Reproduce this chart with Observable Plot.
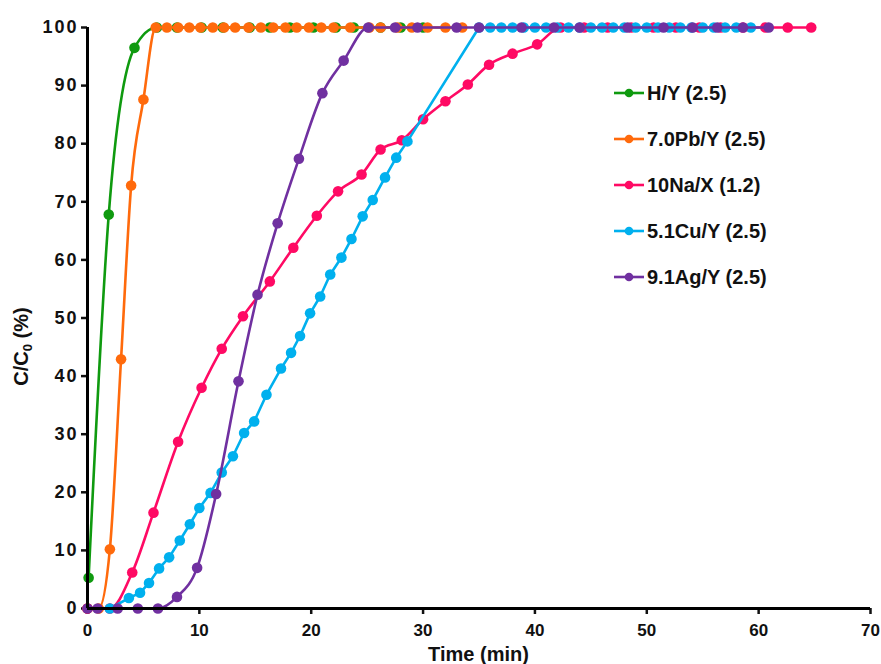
<!DOCTYPE html>
<html>
<head>
<meta charset="utf-8">
<script src="https://cdn.jsdelivr.net/npm/d3@7"></script>
<script src="https://cdn.jsdelivr.net/npm/@observablehq/plot@0.6"></script>
<style>
  html, body { margin: 0; padding: 0; background: #fff; }
  #wrap { position: relative; width: 881px; height: 664px; font-family: "Liberation Sans", Arial, sans-serif; }
  #legend { position: absolute; left: 613px; top: 70px; }
  .row { display: flex; align-items: center; height: 46px; font-size: 20px; font-weight: bold; color: #111; }
  .row svg { margin-right: 2px; }
</style>
</head>
<body>
<div id="wrap"><div id="legend"></div></div>
<script>
// ---- data ----
const seriesNames = ["H/Y (2.5)", "7.0Pb/Y (2.5)", "10Na/X (1.2)", "5.1Cu/Y (2.5)", "9.1Ag/Y (2.5)"];
const seriesColors = ["#0f9a0f", "#ff6a0c", "#ff0a64", "#00b0ee", "#7030a0"];
const seriesCurves = ["monotone-x", "monotone-x", "monotone-x", "linear", "monotone-x"];

const hyTime = [0.1, 1.9, 4.2, 6.2, 8.0, 10.2, 12.1, 14.5, 16.3, 18.1, 20.2, 22.2, 23.8, 26.2, 28.0, 30.0];
const hyC    = [5.3, 67.8, 96.5, 100, 100, 100, 100, 100, 100, 100, 100, 100, 100, 100, 100, 100];

const pbTime = [0, 1.0, 2.0, 3.0, 3.9, 5.0, 6.1, 7.1, 8.1, 9.1, 10.1, 11.2, 12.2, 13.2, 14.4, 15.5, 16.6, 17.7, 18.7, 19.8, 20.9, 22.0, 23.5, 25.2, 26.2, 27.7, 29.0, 30.4, 32.0, 33.5];
const pbC    = [0, 0, 10.2, 42.9, 72.8, 87.6, 100, 100, 100, 100, 100, 100, 100, 100, 100, 100, 100, 100, 100, 100, 100, 100, 100, 100, 100, 100, 100, 100, 100, 100];

const naTime = [0, 2.0, 4.0, 5.9, 8.1, 10.2, 12.0, 13.9, 16.3, 18.4, 20.5, 22.4, 24.5, 26.2, 28.1, 30.0, 32.0, 34.0, 35.9, 38.0, 40.2, 42.3, 44.4, 46.5, 48.6, 50.6, 52.6, 54.7, 56.6, 58.6, 60.6, 62.6, 64.7];
const naC    = [0, 0, 6.2, 16.5, 28.7, 38.0, 44.7, 50.3, 56.3, 62.1, 67.6, 71.8, 74.7, 79.0, 80.6, 84.2, 87.3, 90.2, 93.6, 95.5, 97.1, 100, 100, 100, 100, 100, 100, 100, 100, 100, 100, 100, 100];

const cuTime = [2.0, 3.7, 4.7, 5.5, 6.4, 7.3, 8.25, 9.15, 10.0, 11.0, 12.0, 13.0, 14.0, 14.9, 16.0, 17.3, 18.2, 19.0, 19.9, 20.8, 21.7, 22.7, 23.6, 24.6, 25.5, 26.6, 27.6, 28.6, 35.0, 36.0, 37.0, 38.0, 39.0, 40.0, 41.0, 42.0, 43.0, 44.0, 45.0, 46.0, 47.0, 48.0, 49.0, 50.0, 51.0, 52.0, 53.0, 54.0, 55.0, 56.0, 57.0, 58.0, 59.3];
const cuC    = [0, 1.8, 2.7, 4.4, 6.9, 8.8, 11.7, 14.5, 17.3, 19.9, 23.4, 26.2, 30.2, 32.2, 36.8, 41.3, 44.0, 46.9, 50.8, 53.7, 57.5, 60.4, 63.6, 67.5, 70.3, 74.2, 77.6, 80.4, 100, 100, 100, 100, 100, 100, 100, 100, 100, 100, 100, 100, 100, 100, 100, 100, 100, 100, 100, 100, 100, 100, 100, 100, 100];

const agTime = [0, 0.9, 2.7, 4.5, 6.3, 8.0, 9.8, 11.5, 13.5, 15.2, 17.0, 18.9, 21.0, 22.9, 25.1, 27.5, 29.5, 33.0, 35.0, 38.8, 41.7, 44.0, 48.3, 51.5, 54.1, 56.3, 58.6, 60.9];
const agC    = [0, 0, 0, 0, 0, 2.0, 7.0, 19.7, 39.1, 54.0, 66.3, 77.4, 88.7, 94.3, 100, 100, 100, 100, 100, 100, 100, 100, 100, 100, 100, 100, 100, 100];

const xTicks = [0, 10, 20, 30, 40, 50, 60, 70];
const yTicks = [0, 10, 20, 30, 40, 50, 60, 70, 80, 90, 100];

// ---- build table ----
const times = [hyTime, pbTime, naTime, cuTime, agTime];
const values = [hyC, pbC, naC, cuC, agC];
const seriesData = seriesNames.map((name, i) =>
  times[i].map((t, j) => ({series: name, time: t, c: values[i][j]}))
);

const marks = [];
seriesData.forEach((d, i) => {
  marks.push(Plot.line(d, {x: "time", y: "c", stroke: seriesColors[i], strokeWidth: 2.6, curve: seriesCurves[i]}));
  marks.push(Plot.dot(d, {x: "time", y: "c", fill: seriesColors[i], r: 5.3}));
});

const chart = Plot.plot({
  width: 881,
  height: 664,
  marginLeft: 87,
  marginRight: 11,
  marginTop: 27,
  marginBottom: 56,
  style: {fontFamily: "'Liberation Sans', Arial, sans-serif", background: "transparent", color: "#111"},
  x: {domain: [0, 70]},
  y: {domain: [0, 100]},
  marks: [
    Plot.axisX({ticks: xTicks, tickSize: 6, tickPadding: 9, strokeWidth: 2.5, fontSize: 17, fontWeight: "bold", label: null, tickFormat: d => d}),
    Plot.axisY({ticks: yTicks, tickSize: 6, tickPadding: 3, strokeWidth: 2.5, fontSize: 18, fontWeight: "bold", label: null, tickFormat: d => d, className: "yax"}),
    ...marks,
    Plot.ruleY([0], {stroke: "#000", strokeWidth: 3}),
    Plot.ruleX([0], {stroke: "#000", strokeWidth: 3})
  ]
});

const svg = d3.select(chart);
// widen y tick labels like the reference
svg.selectAll("g[aria-label='y-axis tick label'] text").attr("letter-spacing", "2px");

const xs = chart.scale("x"), ys = chart.scale("y");
// x title
svg.append("text")
  .attr("x", xs.apply(35)).attr("y", 661)
  .attr("text-anchor", "middle")
  .attr("font-size", 20).attr("font-weight", "bold").attr("fill", "#111")
  .attr("font-family", "'Liberation Sans', Arial, sans-serif")
  .text("Time (min)");
// y title with subscript
const yt = svg.append("text")
  .attr("transform", `translate(28,${ys.apply(45)}) rotate(-90)`)
  .attr("text-anchor", "middle")
  .attr("font-size", 20).attr("font-weight", "bold").attr("fill", "#111")
  .attr("font-family", "'Liberation Sans', Arial, sans-serif");
yt.append("tspan").text("C/C");
yt.append("tspan").attr("font-size", 13).attr("dy", 4).text("0");
yt.append("tspan").attr("dy", -4).text(" (%)");

document.getElementById("wrap").prepend(chart);
chart.style.position = "absolute";
chart.style.left = "0"; chart.style.top = "0";

// legend
const legend = d3.select("#legend");
seriesNames.forEach((name, i) => {
  const row = legend.append("div").attr("class", "row");
  const g = row.append("svg").attr("width", 32).attr("height", 12);
  g.append("line").attr("x1", 1).attr("x2", 31).attr("y1", 6).attr("y2", 6).attr("stroke", seriesColors[i]).attr("stroke-width", 2.6);
  g.append("circle").attr("cx", 16).attr("cy", 6).attr("r", 4.3).attr("fill", seriesColors[i]);
  row.append("span").text(name);
});
</script>
</body>
</html>
